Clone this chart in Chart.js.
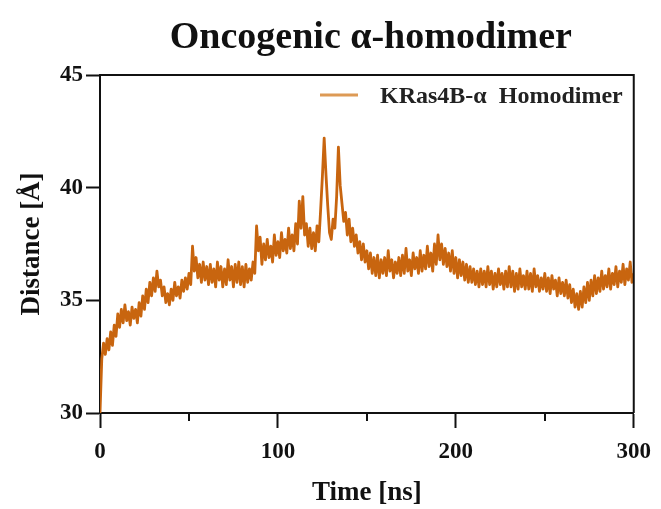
<!DOCTYPE html>
<html>
<head>
<meta charset="utf-8">
<script src="https://cdn.jsdelivr.net/npm/chart.js@4"></script>
<style>
html,body{margin:0;padding:0;background:#fff;}
#wrap{width:661px;height:509px;}
</style>
</head>
<body>
<div id="wrap"><canvas id="c" width="661" height="509"></canvas></div>
<script>
const chartTitle = "Oncogenic \u03B1-homodimer";
const seriesLabel = "KRas4B-\u03B1  Homodimer";
const xTitle = "Time [ns]";
const yTitle = "Distance [\u00C5]";
const xTickValues = [0, 100, 200, 300];
const xMinorTicks = [50, 150, 250];
const yTickValues = [30, 35, 40, 45];

// time in ns (1 ns steps)
const timeNs = [];
for (let t = 0; t <= 300; t++) timeNs.push(t);

// distance in Å
const distance = [
30.0,32.4,33.1,32.6,33.3,32.8,33.6,33.0,33.9,33.4,
34.4,33.8,34.6,34.0,34.8,34.1,34.5,33.9,34.7,34.2,
34.6,34.0,34.9,34.3,35.2,34.6,35.5,34.9,35.8,35.2,
36.0,35.4,36.3,35.6,35.9,35.2,35.6,34.9,35.3,34.8,
35.5,35.0,35.8,35.2,35.6,35.1,35.9,35.4,36.0,35.5,
36.2,35.7,37.4,36.3,36.9,36.0,36.6,35.8,36.7,35.9,
36.5,35.7,36.6,35.8,36.4,35.6,36.7,35.9,36.5,35.6,
36.4,35.7,36.8,35.9,36.5,35.6,36.6,35.8,36.7,35.7,
36.5,35.6,36.6,35.8,36.4,35.9,36.7,36.2,38.3,37.2,
37.8,36.6,37.5,36.8,37.7,36.9,37.4,36.7,37.9,37.0,
37.6,36.9,38.0,37.2,37.7,37.1,38.2,37.3,37.9,37.2,
38.4,37.5,39.4,38.2,39.6,37.9,38.4,37.4,38.2,37.3,
38.0,37.2,38.3,37.6,39.0,40.5,42.2,40.6,39.2,38.0,
37.7,38.6,38.2,39.6,41.8,40.1,39.3,38.5,38.9,37.9,
38.6,37.6,38.2,37.4,37.9,37.1,37.6,36.8,37.5,36.7,
37.2,36.4,37.1,36.2,36.9,36.1,37.0,36.0,36.8,36.2,
36.9,36.1,37.2,36.3,36.8,36.0,36.7,36.2,36.9,36.1,
37.0,36.2,37.3,36.3,36.8,36.1,37.1,36.4,36.9,36.2,
37.2,36.3,37.0,36.4,37.4,36.5,37.1,36.3,37.5,36.6,
37.9,36.8,37.5,36.6,37.3,36.5,37.1,36.3,37.2,36.2,
36.9,36.0,36.8,36.1,36.7,35.9,36.6,35.8,36.5,35.8,
36.4,35.7,36.3,35.6,36.4,35.7,36.3,35.6,36.5,35.7,
36.3,35.5,36.2,35.6,36.4,35.7,36.2,35.5,36.3,35.6,
36.5,35.6,36.3,35.4,36.2,35.5,36.4,35.6,36.1,35.5,
36.3,35.5,36.2,35.4,36.4,35.6,36.1,35.4,36.0,35.5,
36.2,35.4,36.0,35.3,36.1,35.5,35.9,35.2,36.0,35.3,
35.8,35.2,35.9,35.1,35.7,34.9,35.5,34.7,35.3,34.6,
35.4,34.7,35.6,34.9,35.8,35.0,35.9,35.2,36.1,35.3,
36.0,35.4,36.3,35.5,36.1,35.6,36.4,35.5,36.2,35.7,
36.5,35.6,36.3,35.8,36.6,35.7,36.4,35.9,36.7,35.8,
36.2
];

const lineColor = '#C8650F';
const legendLineColor = '#DD9A55';
const serif = "'Liberation Serif', 'DejaVu Serif', serif";

const decor = {
  id: 'decor',
  afterDraw(chart) {
    const ctx = chart.ctx;
    const a = chart.chartArea;
    const xs = chart.scales.x;
    ctx.save();
    // frame (top/right)
    ctx.strokeStyle = '#111';
    ctx.lineWidth = 2;
    ctx.beginPath();
    ctx.moveTo(a.left, a.top);
    ctx.lineTo(a.right, a.top);
    ctx.lineTo(a.right, a.bottom);
    ctx.stroke();
    // minor x ticks
    xMinorTicks.forEach(v => {
      const px = Math.round(xs.getPixelForValue(v));
      ctx.beginPath();
      ctx.moveTo(px, a.bottom);
      ctx.lineTo(px, a.bottom + 8);
      ctx.stroke();
    });
    // title
    ctx.fillStyle = '#111';
    ctx.font = "bold 38px " + serif;
    ctx.textAlign = 'center';
    ctx.textBaseline = 'alphabetic';
    ctx.fillText(chartTitle, (a.left + a.right) / 2 + 4, 48);
    // legend
    ctx.strokeStyle = legendLineColor;
    ctx.lineWidth = 3;
    ctx.beginPath();
    ctx.moveTo(320, 95);
    ctx.lineTo(358, 95);
    ctx.stroke();
    ctx.fillStyle = '#222';
    ctx.font = "bold 24px " + serif;
    ctx.textAlign = 'left';
    ctx.textBaseline = 'middle';
    ctx.fillText(chart.data.datasets[0].label, 380, 97);
    ctx.restore();
  }
};

new Chart(document.getElementById('c'), {
  type: 'line',
  data: {
    labels: timeNs,
    datasets: [{
      label: seriesLabel,
      data: distance,
      borderColor: lineColor,
      backgroundColor: lineColor,
      borderWidth: 2.8,
      borderJoinStyle: 'round',
      pointRadius: 0,
      tension: 0,
      fill: false
    }]
  },
  options: {
    responsive: false,
    animation: false,
    devicePixelRatio: 1,
    layout: { padding: { left: 0, top: 75, right: 26, bottom: 0 } },
    plugins: {
      legend: { display: false },
      title: { display: false },
      tooltip: { enabled: false }
    },
    scales: {
      x: {
        type: 'linear',
        min: 0, max: 300,
        afterBuildTicks: s => { s.ticks = xTickValues.map(v => ({ value: v })); },
        afterFit: s => { s.height = 96; },
        border: { display: true, color: '#111', width: 2 },
        grid: { drawOnChartArea: false, drawTicks: true, tickLength: 15, tickWidth: 2, tickColor: '#111' },
        ticks: { color: '#111', font: { family: serif, size: 23, weight: 'bold' }, padding: 10, maxRotation: 0 },
        title: { display: true, text: xTitle, color: '#111', font: { family: serif, size: 27, weight: 'bold' }, padding: { top: 0, bottom: 0 } }
      },
      y: {
        type: 'linear',
        min: 30, max: 45,
        afterBuildTicks: s => { s.ticks = yTickValues.map(v => ({ value: v })); },
        afterFit: s => { s.width = 100; },
        border: { display: true, color: '#111', width: 2 },
        grid: { drawOnChartArea: false, drawTicks: true, tickLength: 14, tickWidth: 2, tickColor: '#111' },
        ticks: { color: '#111', font: { family: serif, size: 23, weight: 'bold' }, padding: 3 },
        title: { display: true, text: yTitle, color: '#111', font: { family: serif, size: 27, weight: 'bold' }, padding: { top: 16, bottom: 0 } }
      }
    }
  },
  plugins: [decor]
});
</script>
</body>
</html>
